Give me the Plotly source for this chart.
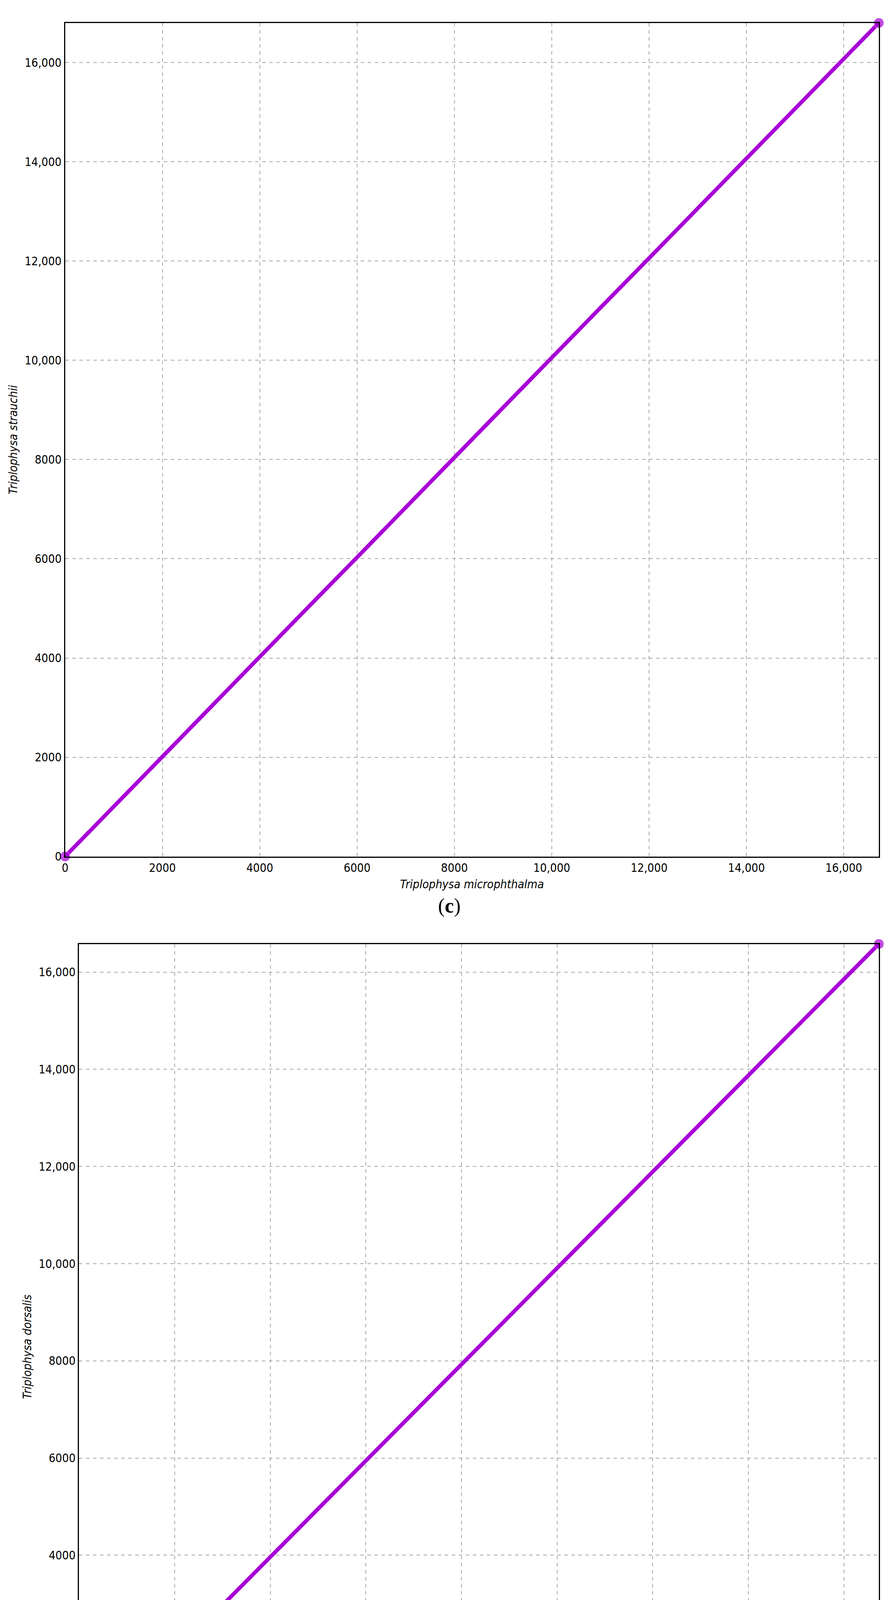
import plotly.graph_objects as go

# dot-plot alignment coordinates
x_c = [0, 1000, 2000, 3000, 4000, 5000, 6000, 7000, 8000, 9000, 10000,
       11000, 12000, 13000, 14000, 15000, 16000, 16720]
y_c = [0, 1010, 2010, 3020, 4020, 5030, 6030, 7040, 8040, 9050, 10050,
       11060, 12060, 13070, 14070, 15080, 16080, 16800]
x_d = [0, 1000, 2000, 3000, 4000, 5000, 6000, 7000, 8000, 9000, 10000,
       11000, 12000, 13000, 14000, 15000, 16000, 16730]
y_d = [0, 990, 1980, 2970, 3960, 4960, 5950, 6940, 7930, 8920, 9910,
       10900, 11890, 12880, 13870, 14870, 15860, 16580]

tick_vals = [0, 2000, 4000, 6000, 8000, 10000, 12000, 14000, 16000]
tick_text = ["0", "2000", "4000", "6000", "8000", "10,000", "12,000", "14,000", "16,000"]

W, H = 2275, 4713
PURPLE = "#a800d8"
FONT = "Liberation Sans Narrow, DejaVu Sans Condensed, sans-serif"

fig = go.Figure()


def add_panel(xs, ys, n, xdom, ydom, ylabel):
    ax = "" if n == 1 else str(n)
    sizes = [26] + [0] * (len(xs) - 2) + [26]
    fig.add_trace(go.Scatter(
        x=xs, y=ys, mode="lines+markers", xaxis="x" + ax, yaxis="y" + ax,
        line=dict(color=PURPLE, width=10),
        marker=dict(color=PURPLE, size=sizes), cliponaxis=False, showlegend=False))
    axis_common = dict(
        tickvals=tick_vals, ticktext=tick_text, showgrid=True,
        gridcolor="#a8a8a8", griddash="dash", gridwidth=2,
        showline=True, linecolor="black", linewidth=3, mirror=True,
        zeroline=False, ticks="", tickfont=dict(family=FONT, size=30, color="black"),
    )
    fig.update_layout(**{
        "xaxis" + ax: dict(axis_common, domain=xdom, anchor="y" + ax,
                           range=[0, xs[-1]],
                           title=dict(text="<i>Triplophysa microphthalma</i>",
                                      font=dict(family=FONT, size=30), standoff=16)),
        "yaxis" + ax: dict(axis_common, domain=ydom, anchor="x" + ax,
                           range=[0, ys[-1]],
                           title=dict(text="<i>" + ylabel + "</i>",
                                      font=dict(family=FONT, size=30), standoff=10)),
    })


add_panel(x_c, y_c, 1, [0.066, 0.985], [0.5347, 0.9892], "Triplophysa strauchii")
add_panel(x_d, y_d, 2, [0.0818, 0.985], [0.0477, 0.487], "Triplophysa dorsalis")

for label, yp in [("c", 1 - 2320 / H), ("d", 1 - 4665 / H)]:
    fig.add_annotation(text="(<b>" + label + "</b>)", x=0.5, y=yp, xref="paper", yref="paper",
                       showarrow=False, font=dict(family="Liberation Serif, serif", size=52, color="black"))

fig.update_layout(
    width=W, height=H, margin=dict(l=0, r=0, t=0, b=0),
    plot_bgcolor="white", paper_bgcolor="white",
    font=dict(family=FONT, size=30, color="black"),
)

fig.write_html("out.html")
